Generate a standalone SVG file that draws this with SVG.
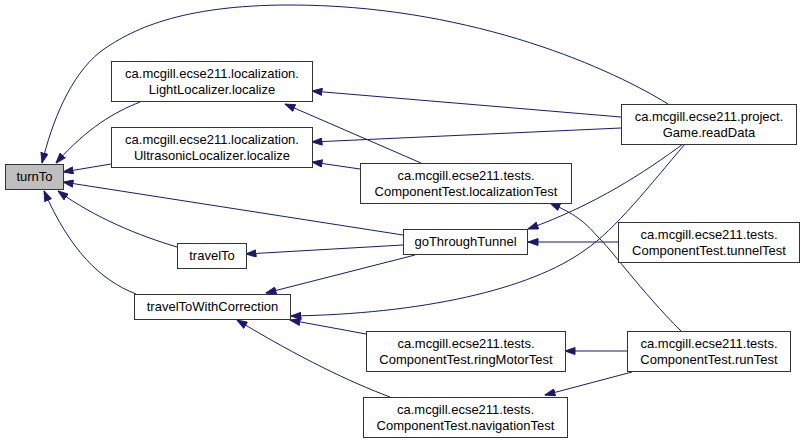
<svg xmlns="http://www.w3.org/2000/svg" width="804" height="443" viewBox="0 0 804 443">
<style>
.n rect{fill:#fff;stroke:#333;stroke-width:1}
#turnTo rect{fill:#bfbfbf}
.n text{font-family:"Liberation Sans",Arial,sans-serif;font-size:13px;fill:#000;text-anchor:middle}
.e path{fill:none;stroke:#191970;stroke-width:1;marker-end:url(#ah)}
</style>
<defs>
<marker id="ah" viewBox="0 0 11 8" refX="10.5" refY="4" markerWidth="11" markerHeight="8" markerUnits="userSpaceOnUse" orient="auto">
<path d="M0.5,0.5 L10.5,4 L0.5,7.5 z" fill="#191970" stroke="#191970"/>
</marker>
</defs>
<rect width="804" height="443" fill="#fff"/>
<g id="edges" class="e">
<path d="M668,104 C600,62 460,5 290,5 C180,5 130,30 100,52 C70,76 52,122 42,163"/>
<path d="M140,102 C115,112 88,127 56,163"/>
<path d="M111,164 L63,172"/>
<path d="M403,235 L63,182"/>
<path d="M177,247 C140,236 95,218 58,191"/>
<path d="M136,294 C100,280 70,250 44,191"/>
<path d="M621,117 L312,91"/>
<path d="M421,163 L285,104"/>
<path d="M621,128 L312,142"/>
<path d="M360,169 L312,162"/>
<path d="M683,144 C645,172 595,205 528,229"/>
<path d="M618,242 L528,242"/>
<path d="M403,245 L246,254"/>
<path d="M415,255 L266,293"/>
<path d="M685,144 C650,185 615,230 585,250 C530,290 420,314 291,316"/>
<path d="M366,334 L290,320"/>
<path d="M390,397 C350,382 300,358 237,320"/>
<path d="M681,331 C640,290 612,250 597,236 C585,222 575,214 550,203"/>
<path d="M627,351 L565,351"/>
<path d="M632,372 L545,395"/>
</g>
<g id="turnTo" class="n"><rect x="5.5" y="164.5" width="58" height="25"/><text x="34.5" y="181">turnTo</text></g>
<g id="lightLocalize" class="n"><rect x="111.5" y="61.5" width="201" height="40"/><text x="212" y="78">ca.mcgill.ecse211.localization.</text><text x="212" y="94">LightLocalizer.localize</text></g>
<g id="ultrasonicLocalize" class="n"><rect x="111.5" y="127.5" width="201" height="40"/><text x="212" y="144">ca.mcgill.ecse211.localization.</text><text x="212" y="160">UltrasonicLocalizer.localize</text></g>
<g id="readData" class="n"><rect x="621.5" y="104.5" width="175" height="40"/><text x="709" y="121">ca.mcgill.ecse211.project.</text><text x="709" y="137">Game.readData</text></g>
<g id="localizationTest" class="n"><rect x="360.5" y="163.5" width="211" height="40"/><text x="466" y="180">ca.mcgill.ecse211.tests.</text><text x="466" y="196">ComponentTest.localizationTest</text></g>
<g id="travelTo" class="n"><rect x="177.5" y="243.5" width="69" height="25"/><text x="212" y="260">travelTo</text></g>
<g id="travelToWithCorrection" class="n"><rect x="134.5" y="294.5" width="156" height="25"/><text x="212.5" y="311">travelToWithCorrection</text></g>
<g id="goThroughTunnel" class="n"><rect x="403.5" y="229.5" width="124" height="25"/><text x="465.5" y="246">goThroughTunnel</text></g>
<g id="tunnelTest" class="n"><rect x="618.5" y="222.5" width="181" height="40"/><text x="709" y="239">ca.mcgill.ecse211.tests.</text><text x="709" y="255">ComponentTest.tunnelTest</text></g>
<g id="ringMotorTest" class="n"><rect x="366.5" y="331.5" width="199" height="40"/><text x="466" y="348">ca.mcgill.ecse211.tests.</text><text x="466" y="364">ComponentTest.ringMotorTest</text></g>
<g id="runTest" class="n"><rect x="627.5" y="331.5" width="163" height="40"/><text x="709" y="348">ca.mcgill.ecse211.tests.</text><text x="709" y="364">ComponentTest.runTest</text></g>
<g id="navigationTest" class="n"><rect x="363.5" y="397.5" width="204" height="40"/><text x="465.5" y="414">ca.mcgill.ecse211.tests.</text><text x="465.5" y="430">ComponentTest.navigationTest</text></g>
</svg>
